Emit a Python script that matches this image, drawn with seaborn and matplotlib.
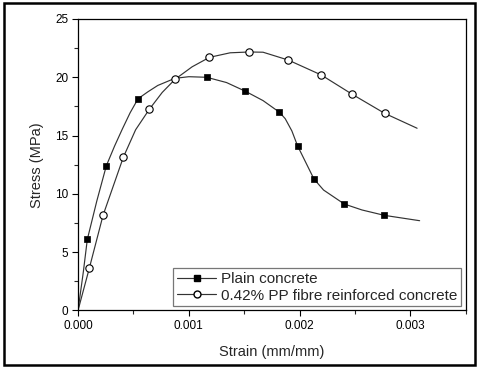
import numpy as np
import pandas as pd
import matplotlib
matplotlib.use("Agg")
import matplotlib.pyplot as plt
from matplotlib.lines import Line2D
from matplotlib.patches import Rectangle
from matplotlib.ticker import MultipleLocator
import seaborn as sns

# --- data (strain in mm/mm, stress in MPa) ---
# measured markers
plain_strain = [0.000084, 0.000256, 0.000542, 0.001161, 0.001511, 0.001818,
                0.001981, 0.002129, 0.002403, 0.002764]
plain_stress = [6.09, 12.42, 18.16, 20.0, 18.8, 17.0, 14.13, 11.28, 9.13, 8.16]

fibre_strain = [0.000102, 0.000226, 0.000409, 0.000644, 0.000876, 0.001186,
                0.001545, 0.001897, 0.002195, 0.002475, 0.002767]
fibre_stress = [3.62, 8.16, 13.14, 17.26, 19.83, 21.71, 22.17, 21.48, 20.2,
                18.54, 16.91]

# points along the drawn curves
plain_curve_strain = [0.0, 0.000048, 0.000084, 0.00017, 0.000256, 0.00033,
                      0.0004, 0.00047, 0.000542, 0.00063, 0.00072, 0.000874,
                      0.001, 0.001161, 0.00134, 0.001511, 0.00167, 0.001818,
                      0.00187, 0.00193, 0.001981, 0.002129, 0.002216, 0.002403,
                      0.002563, 0.002764, 0.003083]
plain_curve_stress = [0.0, 3.3, 6.09, 9.4, 12.42, 14.1, 15.56, 16.95, 18.16,
                      18.75, 19.3, 19.91, 20.05, 20.0, 19.55, 18.8, 18.0, 17.0,
                      16.45, 15.4, 14.13, 11.28, 10.33, 9.13, 8.62, 8.16, 7.70]

fibre_curve_strain = [0.0, 0.000102, 0.000226, 0.000409, 0.00052, 0.000644,
                      0.00076, 0.000876, 0.00103, 0.001186, 0.001373, 0.001545,
                      0.00167, 0.001897, 0.002195, 0.002475, 0.002767, 0.00306]
fibre_curve_stress = [0.0, 3.62, 8.16, 13.14, 15.5, 17.26, 18.7, 19.83, 20.9,
                      21.71, 22.1, 22.17, 22.15, 21.48, 20.2, 18.54, 16.91, 15.63]

labels = ["Plain concrete", "0.42% PP fibre reinforced concrete"]

# --- style ---
sns.set_style("ticks")
plt.rcParams['font.family'] = ['Liberation Sans', 'DejaVu Sans']

fig = plt.figure(figsize=(4.8, 3.68), dpi=100)
ax = fig.add_axes([0.1625, 0.1563, 0.808, 0.7921])

line_kw = dict(color='#333333', linewidth=0.85, sort=False, estimator=None)
sns.lineplot(x=plain_curve_strain, y=plain_curve_stress, ax=ax, **line_kw)
sns.lineplot(x=fibre_curve_strain, y=fibre_curve_stress, ax=ax, **line_kw)

sns.scatterplot(x=plain_strain, y=plain_stress, ax=ax, marker='s', s=20,
                color='black', edgecolor='black', linewidth=0.5, zorder=3)
sns.scatterplot(x=fibre_strain, y=fibre_stress, ax=ax, marker='o', s=28,
                color='white', edgecolor='black', linewidth=0.8, zorder=3)

ax.set_xlim(0, 0.0035)
ax.set_ylim(0, 25)
ax.xaxis.set_major_locator(MultipleLocator(0.001))
ax.xaxis.set_minor_locator(MultipleLocator(0.0005))
ax.yaxis.set_major_locator(MultipleLocator(5))
ax.yaxis.set_minor_locator(MultipleLocator(2.5))
ax.xaxis.set_major_formatter(plt.FuncFormatter(lambda v, p: f"{v:.3f}"))
ax.tick_params(which='major', direction='out', length=4, width=0.8,
               labelsize=8.5, colors='black', pad=3)
ax.tick_params(which='minor', direction='out', length=3, width=0.8)
ax.tick_params(top=False, right=False, which='both')
for sp in ax.spines.values():
    sp.set_visible(True)
    sp.set_linewidth(0.9)
    sp.set_color('black')

ax.set_xlabel("Strain (mm/mm)", fontsize=10.5, labelpad=9)
ax.set_ylabel("Stress (MPa)", fontsize=10.5, labelpad=8)

handles = [
    Line2D([], [], color='#333333', linewidth=0.85, marker='s', markersize=4,
           markerfacecolor='black', markeredgecolor='black'),
    Line2D([], [], color='#333333', linewidth=0.85, marker='o', markersize=5,
           markerfacecolor='white', markeredgecolor='black'),
]
leg = ax.legend(handles, labels, loc='lower right', bbox_to_anchor=(0.988, 0.014),
                fontsize=11, frameon=True, fancybox=False, handlelength=2.6,
                handletextpad=0.3, borderpad=0.25, labelspacing=0.15,
                borderaxespad=0)
leg.get_frame().set_edgecolor('#555555')
leg.get_frame().set_linewidth(0.9)

# outer frame around the whole picture
fig.patches.append(Rectangle((0.008, 0.007), 0.982, 0.985, transform=fig.transFigure,
                             fill=False, edgecolor='black', linewidth=1.8))

fig.savefig("out.png", dpi=100)
